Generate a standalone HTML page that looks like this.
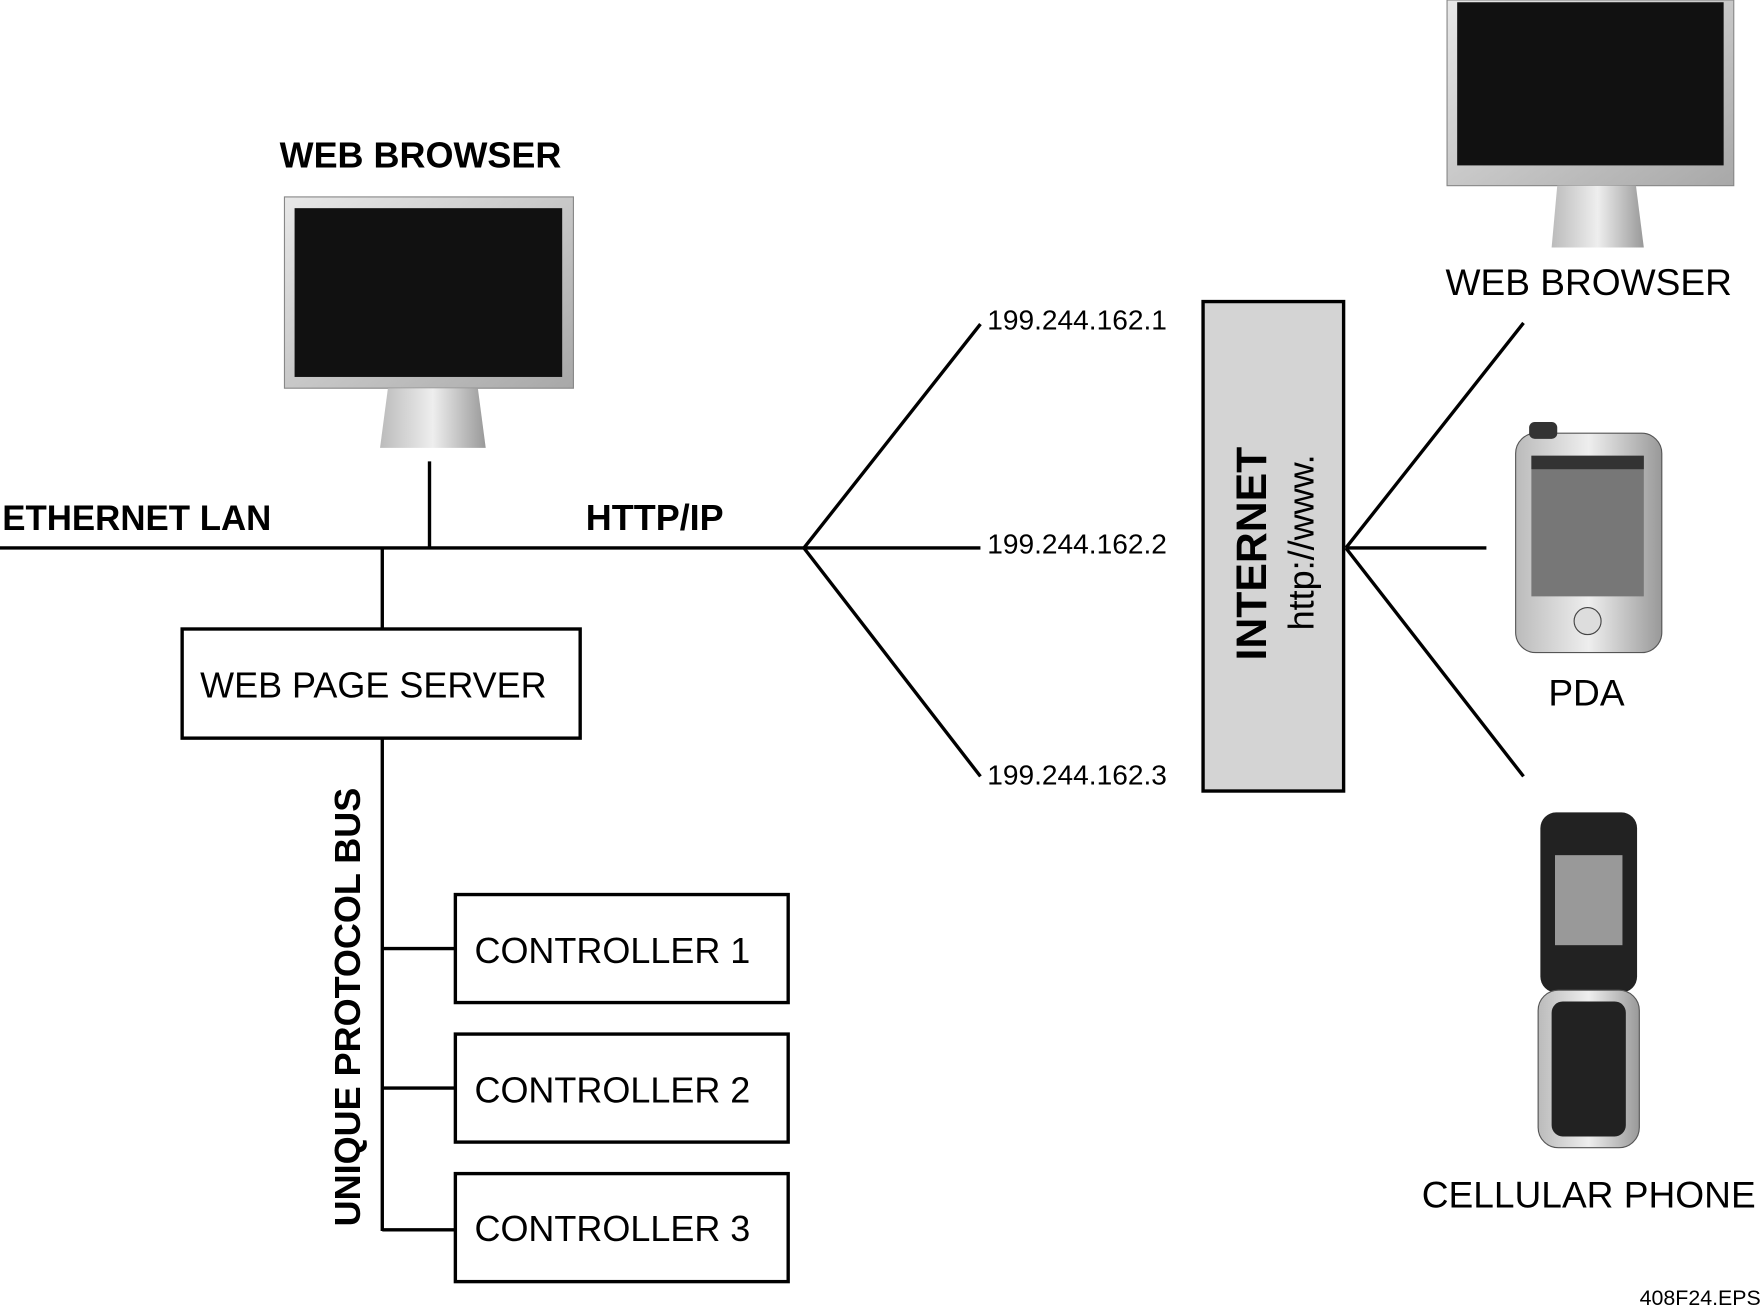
<!DOCTYPE html>
<html><head><meta charset="utf-8"><style>
html,body{margin:0;padding:0;background:#fff;}
svg{display:block;}
text{font-family:"Liberation Sans",sans-serif;fill:#000;}
</style></head><body>
<svg width="1763" height="1312" viewBox="0 0 1568 1166" preserveAspectRatio="none" xmlns="http://www.w3.org/2000/svg">
<defs>
<linearGradient id="mg" x1="0" y1="0" x2="1" y2="1"><stop offset="0" stop-color="#e8e8e8"/><stop offset="1" stop-color="#a8a8a8"/></linearGradient>
<linearGradient id="sg" x1="0" y1="0" x2="1" y2="0"><stop offset="0" stop-color="#bbb"/><stop offset="0.5" stop-color="#eee"/><stop offset="1" stop-color="#999"/></linearGradient>
</defs>
<g stroke="#000" stroke-width="3" fill="none">
<line x1="0" y1="487" x2="715" y2="487"/>
<line x1="382" y1="410" x2="382" y2="487"/>
<line x1="340" y1="487" x2="340" y2="559"/>
<rect x="162" y="559" width="354" height="97"/>
<line x1="340" y1="656" x2="340" y2="1094"/>
<line x1="340" y1="843" x2="405" y2="843"/>
<line x1="340" y1="967" x2="405" y2="967"/>
<line x1="340" y1="1093" x2="405" y2="1093"/>
<rect x="405" y="795" width="296" height="96"/>
<rect x="405" y="919" width="296" height="96"/>
<rect x="405" y="1043" width="296" height="96"/>
<line x1="715" y1="487" x2="872" y2="288"/>
<line x1="715" y1="487" x2="872" y2="487"/>
<line x1="715" y1="487" x2="872" y2="690"/>
<line x1="1197" y1="487" x2="1355" y2="287"/>
<line x1="1197" y1="487" x2="1322" y2="487"/>
<line x1="1197" y1="487" x2="1355" y2="690"/>
</g>
<rect x="1070" y="268" width="125" height="435" fill="#d4d4d4" stroke="#000" stroke-width="3"/>
<rect x="253" y="175" width="257" height="170" fill="url(#mg)" stroke="#888"/>
<rect x="262" y="185" width="238" height="150" fill="#111"/>
<path d="M345 345 L425 345 L432 398 L338 398 Z" fill="url(#sg)"/>
<rect x="1287" y="0" width="255" height="165" fill="url(#mg)" stroke="#888"/>
<rect x="1296" y="2" width="237" height="145" fill="#111"/>
<path d="M1385 165 L1455 165 L1462 220 L1380 220 Z" fill="url(#sg)"/>
<rect x="1348" y="385" width="130" height="195" rx="18" fill="url(#sg)" stroke="#555"/>
<rect x="1362" y="405" width="100" height="125" fill="#777"/>
<rect x="1362" y="405" width="100" height="12" fill="#333"/>
<circle cx="1412" cy="552" r="12" fill="#ddd" stroke="#444"/>
<rect x="1360" y="375" width="25" height="15" rx="5" fill="#333"/>
<rect x="1370" y="722" width="86" height="160" rx="14" fill="#222"/>
<rect x="1383" y="760" width="60" height="80" fill="#999"/>
<rect x="1368" y="880" width="90" height="140" rx="18" fill="url(#sg)" stroke="#555"/>
<rect x="1380" y="890" width="66" height="120" rx="10" fill="#222"/>
<text x="374" y="149" font-size="32" font-weight="bold" text-anchor="middle">WEB BROWSER</text>
<text x="2" y="471" font-size="31" font-weight="bold">ETHERNET LAN</text>
<text x="521" y="471" font-size="32" font-weight="bold">HTTP/IP</text>
<text x="178" y="620" font-size="32">WEB PAGE SERVER</text>
<text x="422" y="856" font-size="32">CONTROLLER 1</text>
<text x="422" y="980" font-size="32">CONTROLLER 2</text>
<text x="422" y="1103" font-size="32">CONTROLLER 3</text>
<text transform="translate(320,895) rotate(-90)" font-size="32" font-weight="bold" text-anchor="middle">UNIQUE PROTOCOL BUS</text>
<text x="878" y="293" font-size="25">199.244.162.1</text>
<text x="878" y="492" font-size="25">199.244.162.2</text>
<text x="878" y="697" font-size="25">199.244.162.3</text>
<text transform="translate(1126,492) rotate(-90)" font-size="38" font-weight="bold" text-anchor="middle">INTERNET</text>
<text transform="translate(1168,482) rotate(-90)" font-size="32" text-anchor="middle">http://www.</text>
<text x="1413" y="262" font-size="33" text-anchor="middle">WEB BROWSER</text>
<text x="1411" y="627" font-size="33" text-anchor="middle">PDA</text>
<text x="1413" y="1073" font-size="33" text-anchor="middle">CELLULAR PHONE</text>
<text x="1566" y="1160" font-size="19" text-anchor="end">408F24.EPS</text>
</svg>
</body></html>
